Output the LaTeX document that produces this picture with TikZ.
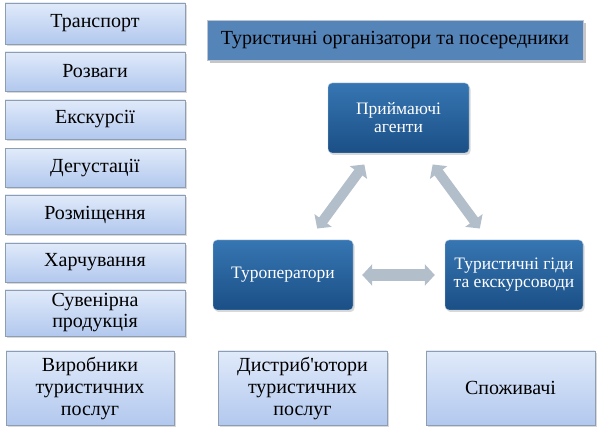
\documentclass[tikz,border=0pt]{standalone}
\usepackage{fontspec}
\setmainfont{Liberation Serif}
\usetikzlibrary{arrows.meta, shadows}

\definecolor{lightTop}{HTML}{E0EAFA}
\definecolor{lightBot}{HTML}{B2C8EE}
\definecolor{lightEdge}{HTML}{8E9DB0}
\definecolor{darkTop}{HTML}{3676B2}
\definecolor{darkBot}{HTML}{1B4F86}
\definecolor{darkEdge}{HTML}{B9CBDD}
\definecolor{titleBlue}{HTML}{5584B9}
\definecolor{arrowGray}{HTML}{B3BECB}

\begin{document}
\begin{tikzpicture}[x=1pt, y=-1pt,
    service/.style={draw=lightEdge, top color=lightTop, bottom color=lightBot,
      minimum width=180pt, minimum height=39pt, align=center, inner sep=1pt,
      font=\fontsize{20}{21}\selectfont,
      drop shadow={shadow xshift=1.5pt, shadow yshift=-2pt, opacity=0.3}},
    agent/.style={draw=darkEdge, rounded corners=4pt, top color=darkTop, bottom color=darkBot,
      minimum width=140pt, minimum height=70pt, align=center, inner sep=1pt,
      text=white, font=\fontsize{17.5}{18}\selectfont,
      drop shadow={shadow xshift=1.5pt, shadow yshift=-2pt, opacity=0.3}},
    biarrow/.style={line width=10pt, draw=arrowGray,
      {Triangle[width=21pt, length=10pt]}-{Triangle[width=21pt, length=10pt]}}]
    \useasboundingbox (0,0) rectangle (600,430);

    % left column
    \node[service, minimum height=41pt] (tr) at (95,23.5) {Транспорт};
    \node[service] (roz) at (95,71.5) {Розваги};
    \node[service] (exc) at (95,119.5) {Екскурсії};
    \node[service] (deg) at (95,168) {Дегустації};
    \node[service] (rozm) at (95,214.5) {Розміщення};
    \node[service] (harch) at (95,262.5) {Харчування};
    \node[service, minimum height=46pt] (suv) at (95,313) {Сувенірна\\продукція};

    % bottom row
    \node[service, minimum width=168pt, minimum height=74pt, font=\fontsize{20}{22}\selectfont] (vyr) at (90,388) {Виробники\\туристичних\\послуг};
    \node[service, minimum width=169pt, minimum height=74pt, font=\fontsize{20}{22}\selectfont] (dis) at (302.5,388) {Дистриб\textquotesingle ютори\\туристичних\\послуг};
    \node[service, minimum width=169pt, minimum height=74pt] (spoz) at (510.5,388) {Споживачі};

    % title
    \node[draw=lightEdge!60, fill=titleBlue, minimum width=376pt, minimum height=40pt,
      font=\fontsize{20}{21}\selectfont,
      drop shadow={shadow xshift=3pt, shadow yshift=-3pt, opacity=0.45}] (title) at (395,40)
      {Туристичні організатори та посередники};

    % triangle
    \node[agent, minimum width=141pt] (pa) at (398.5,118) {Приймаючі\\агенти};
    \node[agent] (tur) at (283,275) {Туроператори};
    \node[agent, minimum width=138pt] (gid) at (514,275) {Туристичні гіди\\та екскурсоводи};

    \draw[biarrow, shorten <=14pt, shorten >=14pt] (tur) -- (pa);
    \draw[biarrow, shorten <=14pt, shorten >=14pt] (pa) -- (gid);
    \draw[biarrow, line width=12pt, shorten <=9pt, shorten >=10pt] (tur) -- (gid);
\end{tikzpicture}
\end{document}
